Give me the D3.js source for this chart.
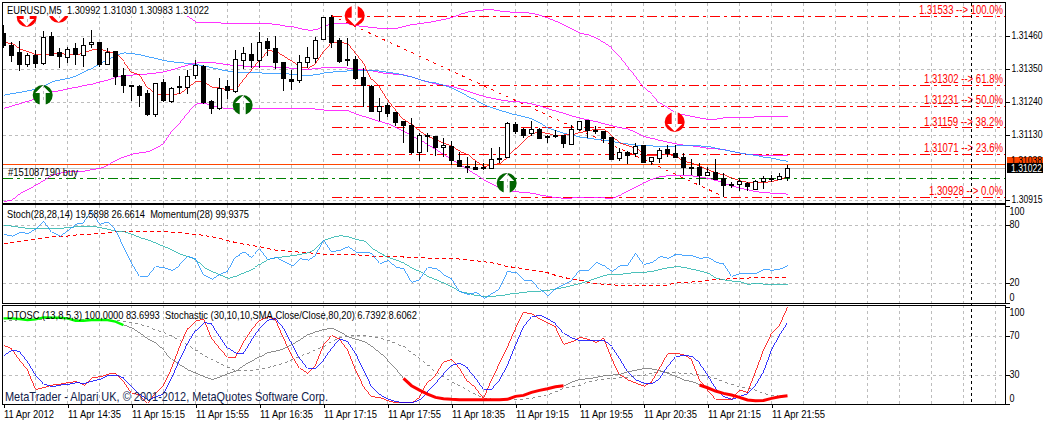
<!DOCTYPE html>
<html><head><meta charset="utf-8">
<style>
html,body{margin:0;padding:0;background:#fff;overflow:hidden}
svg{display:block}
text{font-family:"Liberation Sans",Arial,sans-serif;font-size:11px;fill:#000;white-space:pre}
text.narrow{font-family:"Liberation Sans Narrow","Liberation Sans",Arial,sans-serif}
</style>
<script src="https://cdn.jsdelivr.net/npm/d3@7/dist/d3.min.js"></script>
</head><body><svg id="c" width="1043" height="421"></svg>
<script>
// All prices are points above 1.30000
const opens=[1474,1435,1410,1370,1400,1373,1465,1411,1396,1423,1400,1437,1445,1373,1413,1333,1300,1299,1273,1202,1310,1246,1298,1295,1335,1364,1246,1225,1296,1279,1382,1403,1383,1447,1425,1377,1321,1317,1377,1393,1454,1528,1451,1387,1387,1327,1298,1214,1233,1211,1180,1166,1075,1133,1129,1091,1096,1049,1029,1026,1025,1022,1051,1059,1171,1153,1138,1154,1130,1132,1132,1102,1153,1183,1149,1146,1127,1055,1078,1073,1099,1046,1059,1086,1073,1059,1028,1026,998,1010,991,970,969,972,954,978,987,986,991];
const highs=[1501,1446,1448,1407,1418,1481,1479,1423,1429,1440,1457,1485,1446,1423,1413,1359,1301,1301,1284,1309,1320,1293,1331,1351,1384,1368,1251,1323,1318,1418,1429,1440,1479,1459,1465,1379,1351,1401,1429,1462,1529,1535,1457,1457,1396,1357,1301,1256,1240,1212,1182,1190,1139,1139,1130,1123,1112,1078,1061,1045,1039,1089,1095,1178,1178,1156,1181,1156,1134,1151,1134,1167,1182,1184,1162,1148,1128,1089,1080,1106,1100,1061,1089,1100,1100,1073,1052,1039,1028,1052,1006,978,991,978,983,995,1000,1006,1032];
const lows=[1423,1376,1349,1362,1357,1368,1396,1359,1373,1368,1362,1423,1362,1368,1301,1273,1247,1226,1198,1195,1245,1240,1271,1271,1321,1236,1204,1217,1253,1273,1353,1357,1357,1396,1353,1282,1284,1306,1357,1373,1451,1423,1373,1365,1318,1226,1212,1182,1195,1162,1108,1070,1045,1077,1065,1061,1034,1028,1006,1015,1017,1022,1039,1058,1137,1123,1130,1119,1106,1125,1089,1099,1146,1122,1136,1106,1052,1048,1036,1061,1039,1034,1041,1059,1059,999,1000,967,995,983,928,956,946,948,953,953,978,983,981];
const closes=[1435,1403,1371,1401,1373,1460,1403,1396,1422,1402,1433,1444,1373,1412,1328,1299,1298,1269,1204,1307,1249,1290,1293,1332,1369,1245,1222,1291,1282,1387,1407,1382,1444,1422,1377,1325,1313,1376,1393,1452,1527,1446,1382,1383,1325,1299,1215,1232,1206,1177,1165,1075,1133,1129,1091,1099,1048,1028,1025,1020,1022,1052,1056,1173,1148,1134,1153,1124,1127,1129,1105,1153,1180,1151,1146,1124,1055,1076,1069,1098,1041,1059,1085,1071,1061,1025,1025,998,1009,987,969,968,979,961,981,989,990,996,1022];

const redMA=[1442,1440,1420,1412,1401,1401,1405,1407,1401,1401,1409,1418,1420,1412,1405,1379,1342,1334,1290,1270,1268,1268,1273,1293,1314,1309,1293,1290,1284,1284,1318,1351,1384,1416,1412,1396,1379,1362,1357,1373,1412,1442,1442,1440,1407,1373,1318,1293,1251,1217,1184,1167,1145,1128,1117,1106,1095,1078,1067,1045,1028,1034,1039,1061,1089,1115,1139,1143,1138,1130,1134,1135,1142,1148,1153,1153,1128,1106,1097,1089,1067,1064,1067,1070,1061,1045,1039,1028,1017,1006,1000,989,980,975,975,975,978,986,995];
const blueMA=[1267,1272,1276,1282,1286,1298,1312,1318,1323,1331,1345,1357,1373,1387,1401,1408,1406,1401,1395,1389,1382,1378,1376,1372,1369,1364,1358,1352,1347,1344,1344,1343,1341,1340,1339,1338,1337,1334,1333,1335,1341,1344,1345,1348,1349,1350,1349,1347,1343,1339,1333,1327,1318,1311,1307,1299,1290,1276,1262,1249,1234,1224,1215,1208,1201,1194,1187,1173,1156,1147,1139,1133,1126,1123,1119,1116,1112,1107,1103,1100,1099,1097,1095,1096,1097,1097,1097,1097,1095,1089,1084,1078,1073,1069,1065,1060,1056,1050,1045];
const bbUpper=[null,null,null,null,null,null,null,null,null,null,null,null,null,null,null,null,null,null,null,null,null,1585,1563,1529,1511,1510,1509,1508,1507,1507,1506,1505,1505,1505,1504,1498,1496,1489,1484,1485,1498,1505,1507,1505,1499,1496,1493,1490,1490,1490,1497,1503,1506,1510,1515,1520,1527,1537,1545,1549,1552,1552,1548,1545,1544,1543,1540,1533,1524,1513,1501,1487,1474,1468,1457,1442,1423,1396,1362,1329,1293,1268,1240,1223,1206,1201,1195,1190,1186,1187,1191,1192,1193,1193,1194,1195,1195,1195,1196];
const bbMiddle=[1223,1231,1239,1247,1256,1271,1278,1282,1289,1293,1299,1304,1311,1318,1327,1331,1334,1335,1338,1341,1345,1352,1360,1368,1374,1376,1376,1372,1368,1366,1364,1363,1362,1362,1360,1358,1357,1354,1353,1356,1359,1359,1359,1357,1354,1351,1348,1342,1338,1337,1334,1327,1318,1310,1304,1300,1295,1288,1279,1270,1262,1256,1251,1247,1245,1242,1237,1230,1221,1213,1206,1197,1190,1184,1178,1171,1164,1158,1153,1141,1128,1122,1115,1109,1104,1099,1097,1093,1089,1087,1085,1078,1073,1069,1067,1066,1066,1065,1065];
const bbLower=[911,917,939,952,967,983,1000,1006,1011,1012,1013,1018,1022,1034,1050,1061,1070,1074,1078,1091,1106,1145,1173,1206,1237,1240,1231,1225,1221,1220,1220,1221,1223,1223,1223,1223,1223,1223,1223,1220,1217,1216,1215,1214,1203,1195,1187,1178,1171,1158,1145,1130,1117,1100,1084,1067,1050,1034,1017,1000,983,969,956,949,944,941,939,933,928,924,922,923,924,924,924,923,922,933,948,961,975,986,995,997,998,997,997,992,989,981,972,963,956,950,944,941,939,937,936];

const fibPrices=[1533,1302,1231,1159,1071,928];
const fibLabels=["1.31533 --> 100.0%","1.31302 --> 61.8%","1.31231 --> 50.0%","1.31159 --> 38.2%","1.31071 --> 23.6%","1.30928 --> 0.0%"];
const fibFromBar=[41,90];
const orderStop=1038, orderEntry=989, lastPrice=1022;
const orderLabel="#151087190 buy";
const priceGrid=[1464,1354,1244,1133,1022,917];
const priceTickLabels=["1.31460","1.31350","1.31240","1.31130","","1.30915"];
const downBars=[2.9,6.9,43.9,83.9], downPrices=[1528,1542,1532,1177];
const upBars=[4.9,29.9,62.9], upPrices=[1267,1234,973];

const momentum=[70.6,68.9,72.7,71.6,76.8,84.4,72.7,68.9,75.1,81.3,82.7,95.1,81.3,83.7,75.1,57.8,40.6,27.2,27.2,37.2,36.1,33.4,38.9,47.5,45.1,28.5,24.4,29.6,32.7,47.5,52,46.8,55.8,44.7,46.8,42.3,37.9,45.4,44,49.2,64.7,52.7,54.4,57.8,52,52,51,40.6,43.7,36.1,35.4,21,24.1,36.1,35.4,28.5,24.4,11.3,8.5,10.6,4.4,9.6,14.8,32.3,31,23,23,13.7,6.5,14.8,18.9,23,33.4,33.4,41.6,37.9,32.3,38.5,38.5,51,39.6,41.6,47.8,45.8,49.9,48.9,48.5,45.8,46.8,41.6,39.9,27.2,30.3,30.3,30.3,34.4,33.4,34.8,38.5];
const stochMain=[79.6,79.2,77.8,76.8,76.8,76.8,76.8,76.8,77.8,78.5,79.2,79.2,77.5,75.8,74,73.3,70.6,67.1,64.7,61.3,57.8,54.4,49.9,47.5,44,36.1,32,28.5,25.1,27.5,30.9,34.4,39.9,44.7,46.5,47.5,48.5,49.9,51.6,56.1,64.7,67.5,69.2,68.2,65.4,63.7,56.1,51,46.8,44,40.6,35.4,32,26.8,23.4,19.9,15.8,11.3,9.6,7.2,6.5,6.5,7.2,8.5,9.6,10.6,11.7,12,12.7,14.1,15.8,17.9,19.9,22.3,25.4,28.2,29.2,29.2,30.3,31.3,31.3,32.3,34.4,36.1,37.2,36.5,34.4,32.7,30.3,25.1,23.4,22.3,21.6,18.9,19.9,19.2,18.9,18.9,19.2];
const stochSignal=[61.3,62,63.3,64.7,65.8,66.5,68.2,68.5,68.9,69.9,70.6,70.9,71.6,72.3,73.3,73.3,73.3,73.3,73.3,73.3,73.7,73,72.3,71.6,70.6,69.6,68.2,66.5,64,62.3,60.6,59.2,57.8,56.1,54.4,53.7,52.7,52.3,51.6,51,49.9,49.9,49.9,49.9,49.6,48.9,48.2,47.8,47.8,47.5,47.2,46.8,46.5,46.1,45.8,45.8,45.4,45.1,44,43.4,42.3,41.3,39.6,37.2,36.5,35.1,33.4,32.3,31,28.2,26.1,24.4,23.4,21.3,19.9,18.9,18.5,17.9,17.5,17.5,17.5,17.5,17.9,18.2,20.6,21,21.3,22,23,23.7,24.1,24.8,25.1,25.4,25.8,25.8,26.1,26.1,26.1];

const stoRed=[60,56.5,45.2,34.8,14.8,16.9,19.3,20.3,22,22.7,19.3,26.9,27.9,30.7,31.4,22.7,10.7,9,0.3,10.7,19.3,36.5,58.9,77.9,85.8,87.6,67.6,57.2,47.9,47.9,64.1,76.2,86.5,90,86.5,67.6,50.3,36.5,30.7,40,60.7,70.3,66.5,55.5,34.8,17.6,7.2,6.2,2.8,1,1.7,1,7.2,22.7,29.6,43.4,46.2,36.5,22.7,15.9,5.5,24.5,41.7,58.9,77.9,94.4,92.7,87.2,83.1,78.9,61.7,64.1,68.6,66.5,63.4,68.2,46.9,29.6,24.5,21,18.3,22.7,36.5,51.4,52.1,50.3,45.2,24.5,14.1,4.5,4.5,4.5,14.1,11.4,33.1,55.5,72.7,81.3,99.6];
const stoBlue=[50.3,55.5,53.8,43.4,29.6,20.3,17.6,19.3,20,21.7,21,23.4,25.2,29.6,29.6,26.2,17.6,9,3.8,7.2,10.7,26.2,45.2,62.4,76.2,83.8,82.4,69.3,57.2,52.1,52.1,65.8,77.9,86.5,88.2,77.9,62.4,46.9,36.5,36.5,45.2,57.2,66.5,64.1,52.1,34.8,17.6,9,4.5,2.1,1,1,4.5,12.4,21,30.7,40,41.7,36.5,26.2,14.8,14.8,24.5,40,60.7,79.6,90,91.7,87.2,82.4,72.7,67.6,65.1,65.8,65.5,65.1,58.9,46.9,33.1,24.5,21,21,26.2,38.3,48.6,50.3,48.6,41.7,29.6,15.9,7.2,4.5,7.9,10.7,19.3,33.1,55.5,71,83.8];
const dtoMain=[88.2,88.2,87.6,86.5,87.2,89.3,88.9,88.9,88.2,85.8,85.8,86.5,86.5,86.5,84.8,81.3,77.9,72.7,66.5,62.4,54.8,45.8,40,34.8,31.4,27.9,25.2,27.9,31.4,34.1,40,44.5,48.6,53.1,54.5,57.2,61.4,66.5,71.7,74.5,76.9,77.9,73.8,69.3,66.5,64.1,58.9,52.1,45.2,36.5,26.2,18.6,14.1,10,6.5,5.2,4.5,4.1,4.1,4.1,4.1,4.1,4.1,4.5,7.6,8.6,11.7,13.8,15.5,17.6,18.6,22.7,25.2,25.8,27.2,29,29.6,30.7,33.1,34.8,36.5,35.8,34.1,31.4,27.9,24.5,22.7,19.3,16.5,13.1,10.7,9,6.6,3.8,3.1,3.4,5.5,7.2,8.3];
const dtoSignal=[84.8,85.8,86.9,87.2,87.2,87.6,87.6,87.6,87.6,87.2,86.9,86.5,86.5,86.5,86.2,85.1,83.8,82,79.6,76.2,73.8,70,65.5,60.7,55.5,50.3,45.8,41.7,37.9,34.1,34.1,34.1,35.5,37.2,39.3,41.7,45.2,48.6,52.1,55.5,59.6,64.1,68.2,70,71,70.3,69.3,67.6,65.8,62.4,58.9,52.7,46.9,40,33.1,27.9,22.7,18.3,14.1,9.6,5.5,4.8,4.5,4.5,4.5,4.8,5.5,7.2,9,12.4,15.9,17.6,19.3,22.1,24.5,25.5,26.2,26.9,27.2,28.6,29.6,31.4,33.1,32.7,32,31.4,30.7,29.6,28.6,25.9,22.7,20,17.6,15.9,14.1,10.7,8.3,7.9,7.9];
const dtoSegments=[[0,15,"#00ff00",2.4],[15,50,"#707070",0.8],[50,70,"#ff0000",3],[70,87,"#707070",0.8],[87,98,"#ff0000",3]];

const dateBars=[0,8,16,24,32,40,48,56,64,72,80,88,96];
const dateLabels=["11 Apr 2012","11 Apr 14:35","11 Apr 15:15","11 Apr 15:55","11 Apr 16:35","11 Apr 17:15","11 Apr 17:55","11 Apr 18:35","11 Apr 19:15","11 Apr 19:55","11 Apr 20:35","11 Apr 21:15","11 Apr 21:55"];
const gridBars=d3.range(4,125,4);
const cursorBar=121;
const stochTicks=[100,80,20,0], stochShift=[5,-1,-1,-6];
const dtoTicks=[100,70,30,0], dtoShift=[5,-1,-1,-6];

const titleText="EURUSD,M5  1.30992 1.31030 1.30983 1.31022";
const stochText="Stoch(28,28,14) 19.5898 26.6614  Momentum(28) 99.9375";
const dtoText="DTOSC (13,8,5,3) 100,0000 83.6993  Stochastic (30,10,10,SMA,Close/Close,80,20) 6.7392 8.6062";
const copyright="MetaTrader - Alpari UK, \u00A9 2001-2012, MetaQuotes Software Corp.";

const L=2.5,R=1005.5;
const panels=[{t:2.5,b:203},{t:204.5,b:303},{t:305,b:404}];
const x=d3.scaleLinear().domain([0,125]).range([3.5,1003.5]);
const yP=d3.scaleLinear().domain([1533,928]).range([15.5,196.5]);
const yS=d3.scaleLinear().domain([0,100]).range([302.6,206]);
const yD=d3.scaleLinear().domain([0,100]).range([403.7,307]);

const fit=(sel,w)=>sel.attr("textLength",w).attr("lengthAdjust","spacingAndGlyphs");

const svg=d3.select("#c");
const defs=svg.append("defs");
panels.forEach((p,i)=>defs.append("clipPath").attr("id","p"+i).append("rect").attr("x",L).attr("y",p.t).attr("width",R-L).attr("height",p.b-p.t));
const g=panels.map((p,i)=>svg.append("g").attr("clip-path",`url(#p${i})`));
const G=g[0],S=g[1],D=g[2];
const gridCol="#bdbdbd";

// vertical + horizontal grid
g.forEach((gg,i)=>{
  gg.selectAll("line.v").data(gridBars).join("line").attr("x1",d=>x(d)).attr("x2",d=>x(d))
    .attr("y1",panels[i].t).attr("y2",panels[i].b).attr("stroke",gridCol).attr("stroke-dasharray","3,3").attr("shape-rendering","crispEdges");
});
function hgrid(gg,vals,scale){gg.selectAll("line.h").data(vals).join("line").attr("x1",L).attr("x2",R)
  .attr("y1",d=>Math.round(scale(d))+.5).attr("y2",d=>Math.round(scale(d))+.5)
  .attr("stroke",gridCol).attr("stroke-dasharray","3,3").attr("shape-rendering","crispEdges");}
hgrid(G,priceGrid,yP);
hgrid(S,[0,20,80],yS);
hgrid(D,[0,30,70],yD);

function line(gg,arr,scale,col,w,dash){
  const l=d3.line().defined(d=>d!=null).x((d,i)=>x(i)).y(d=>scale(d));
  return gg.append("path").attr("d",l(arr)).attr("fill","none").attr("stroke",col).attr("stroke-width",w||0.8)
    .attr("stroke-dasharray",dash||null).attr("shape-rendering","crispEdges");
}
function hl(gg,v,col,dash){gg.append("line").attr("x1",L).attr("x2",R).attr("y1",Math.round(yP(v))+.5).attr("y2",Math.round(yP(v))+.5)
  .attr("stroke",col).attr("stroke-dasharray",dash||null).attr("shape-rendering","crispEdges");}

// levels
hl(G,lastPrice,"#c0c0c0");
hl(G,orderStop,"#ff4500");
hl(G,orderEntry,"#008000","10,4,3,4");
G.selectAll("line.fib").data(fibPrices).join("line")
  .attr("x1",x(fibFromBar[0])).attr("x2",R)
  .attr("y1",d=>Math.round(yP(d))+.5).attr("y2",d=>Math.round(yP(d))+.5)
  .attr("stroke","#ff0000").attr("stroke-dasharray","10,4,3,4").attr("shape-rendering","crispEdges");
G.append("line").attr("x1",x(fibFromBar[0])).attr("y1",yP(fibPrices[0]))
  .attr("x2",x(fibFromBar[1])).attr("y2",yP(fibPrices[5]))
  .attr("stroke","#ff0000").attr("stroke-dasharray","3,5").attr("shape-rendering","crispEdges");

// overlays
line(G,bbUpper,yP,"#ff00ff");
line(G,bbMiddle,yP,"#ff00ff");
line(G,bbLower,yP,"#ff00ff");
line(G,blueMA,yP,"#1e90ff");
line(G,redMA,yP,"#ff0000");

// candles
const bars=d3.range(opens.length);
G.selectAll("line.w").data(bars).join("line").attr("x1",i=>x(i)).attr("x2",i=>x(i))
  .attr("y1",i=>yP(highs[i])).attr("y2",i=>yP(lows[i])).attr("stroke","#000").attr("shape-rendering","crispEdges");
G.selectAll("rect.b").data(bars).join("rect")
  .attr("x",i=>x(i)-2).attr("width",4)
  .attr("y",i=>Math.round(yP(Math.max(opens[i],closes[i])))+.5)
  .attr("height",i=>Math.max(0,Math.round(Math.abs(yP(opens[i])-yP(closes[i])))))
  .attr("fill",i=>closes[i]>=opens[i]?"#fff":"#000").attr("stroke","#000").attr("shape-rendering","crispEdges");

// arrows
function arrow(gg,bar,price,col,dir){
  const cx=x(bar),cy=yP(price);
  gg.append("circle").attr("cx",cx).attr("cy",cy).attr("r",10).attr("fill",col);
  gg.append("path").attr("fill","#fff").attr("transform",`translate(${cx},${cy}) scale(1,${dir})`)
    .attr("d","M-3,-10 L3,-10 L3,2 L7.5,2 L0,9.5 L-7.5,2 L-3,2 Z");
  gg.append("line").attr("x1",cx+.6).attr("x2",cx+.6).attr("y1",cy-10).attr("y2",cy+6).attr("stroke",gridCol).attr("stroke-dasharray","3,3").attr("shape-rendering","crispEdges");
}
downBars.forEach((b,i)=>arrow(G,b,downPrices[i],"#ff0000",1));
upBars.forEach((b,i)=>arrow(G,b,upPrices[i],"#006400",-1));

// title background hides what passes behind it
G.append("rect").attr("x",5).attr("y",3).attr("width",205).attr("height",13).attr("fill","#fff");
fit(svg.append("text").attr("x",7).attr("y",14).text(titleText),202);
fit(G.append("text").attr("x",8).attr("y",176).text(orderLabel),70);
const fibW=[84,79,79,79,79,74];
G.selectAll("text.fib").data(fibPrices).join("text").attr("class","narrow").attr("x",d=>1003-fibW[fibPrices.indexOf(d)]).attr("y",d=>yP(d)-1.5)
  .style("fill","#ff0000").style("font-size","12px").text((d,i)=>fibLabels[i])
  .attr("textLength",(d,i)=>fibW[i]).attr("lengthAdjust","spacingAndGlyphs");

// stochastic/momentum panel
line(S,stochSignal,yS,"#ff0000",1,"4,3");
line(S,stochMain,yS,"#20b2aa");
line(S,momentum,yS,"#1e90ff");
fit(S.append("text").attr("x",7).attr("y",218).text(stochText),242);

// DTOSC panel
line(D,dtoSignal,yD,"#707070",0.8,"3,3");
line(D,stoRed,yD,"#ff0000");
line(D,stoBlue,yD,"#0000ff");
dtoSegments.forEach(s=>{
  const l=d3.line().x(i=>x(i)).y(i=>yD(dtoMain[i]));
  D.append("path").attr("d",l(d3.range(s[0],s[1]+1))).attr("fill","none").attr("stroke",s[2]).attr("stroke-width",s[3])
    .attr("shape-rendering",s[3]<1?"crispEdges":null);
});
fit(D.append("text").attr("x",7).attr("y",319).text(dtoText),410);
fit(svg.append("text").attr("x",5).attr("y",401).style("font-size","13px").style("fill","#10204a").text(copyright),323);

// cursor
svg.append("line").attr("x1",x(cursorBar)).attr("x2",x(cursorBar)).attr("y1",2.5).attr("y2",404)
  .attr("stroke","#000").attr("stroke-dasharray","3,3").attr("shape-rendering","crispEdges");

// frames
panels.forEach(p=>svg.append("rect").attr("x",L).attr("y",p.t).attr("width",R-L).attr("height",p.b-p.t)
  .attr("fill","none").attr("stroke","#000").attr("shape-rendering","crispEdges"));

// axes
function styleAxis(a){a.select(".domain").remove();a.selectAll("line").attr("stroke","#000").attr("shape-rendering","crispEdges");
  a.attr("font-family",null).attr("font-size",null);}
const aP=svg.append("g").attr("transform",`translate(${R},0)`).call(
  d3.axisRight(yP).tickValues(priceGrid.filter((d,i)=>priceTickLabels[i])).tickFormat(d=>priceTickLabels[priceGrid.indexOf(d)]).tickSize(4).tickPadding(2));
styleAxis(aP);
aP.selectAll("text").attr("class","narrow").attr("textLength",31).attr("lengthAdjust","spacingAndGlyphs").attr("x",6).attr("dy",(0.32*11-1)+"px");
function side(scale,vals,shift){
  const a=svg.append("g").attr("transform",`translate(${R},0)`).call(d3.axisRight(scale).tickValues(vals).tickFormat(d3.format("d")).tickSize(4).tickPadding(2));
  styleAxis(a);
  a.selectAll("text").attr("dy",(d,i)=>(0.32*11+shift[i])+"px").attr("x",4).attr("textLength",d=>String(d).length*5).attr("lengthAdjust","spacingAndGlyphs");
}
side(yS,stochTicks,stochShift);
side(yD,dtoTicks,dtoShift);

// last price tags
const tags=[[orderStop,"#ff4500","#000",8,157],[lastPrice,"#000","#fff",10,163]];
tags.forEach(t=>{
  svg.append("rect").attr("x",1007).attr("y",t[4]).attr("width",36).attr("height",t[3]).attr("fill",t[1]);
  fit(svg.append("text").attr("class","narrow").attr("x",1011).attr("y",t[4]+(t[0]===orderStop?7:8.5)).style("fill",t[2]).text("1."+(30000+t[0])),31);
});

const aT=svg.append("g").attr("transform",`translate(0,404)`).call(
  d3.axisBottom(x).tickValues(dateBars).tickFormat(d=>dateLabels[dateBars.indexOf(d)]).tickSize(4).tickPadding(2));
styleAxis(aT);
aT.selectAll("text").attr("text-anchor","start").attr("x",0).attr("textLength",(d,i)=>i===0?50:53).attr("lengthAdjust","spacingAndGlyphs");
</script></body></html>
